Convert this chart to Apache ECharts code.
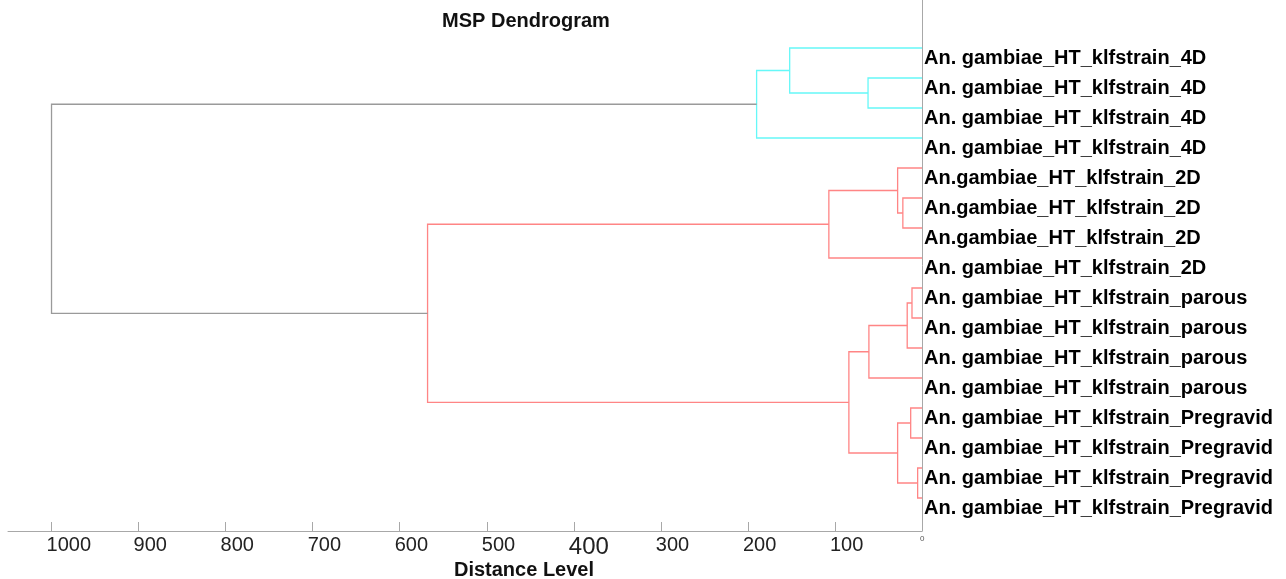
<!DOCTYPE html>
<html>
<head>
<meta charset="utf-8">
<title>MSP Dendrogram</title>
<script src="https://cdn.jsdelivr.net/npm/echarts@6/dist/echarts.min.js"></script>
<style>
  html, body { margin: 0; padding: 0; background: #fff; }
  #chart { width: 1286px; height: 579px; }
</style>
</head>
<body>
<div id="chart"></div>
<script>
// leaves, top to bottom
const leafLabels = [
    'An. gambiae_HT_klfstrain_4D',
    'An. gambiae_HT_klfstrain_4D',
    'An. gambiae_HT_klfstrain_4D',
    'An. gambiae_HT_klfstrain_4D',
    'An.gambiae_HT_klfstrain_2D',
    'An.gambiae_HT_klfstrain_2D',
    'An.gambiae_HT_klfstrain_2D',
    'An. gambiae_HT_klfstrain_2D',
    'An. gambiae_HT_klfstrain_parous',
    'An. gambiae_HT_klfstrain_parous',
    'An. gambiae_HT_klfstrain_parous',
    'An. gambiae_HT_klfstrain_parous',
    'An. gambiae_HT_klfstrain_Pregravid',
    'An. gambiae_HT_klfstrain_Pregravid',
    'An. gambiae_HT_klfstrain_Pregravid',
    'An. gambiae_HT_klfstrain_Pregravid'
];

// merges (linkage style): node 16 + i is created by merge i
const mergeLeft   = [1,  0,   17,  5,  4,  20,  8,    22, 23, 12, 14, 25, 24, 21,  18];
const mergeRight  = [2,  16,  3,   6,  19, 7,   9,    10, 11, 13, 15, 26, 27, 28,  29];
const mergeHeight = [62, 152, 190, 22, 28, 107, 11.5, 17, 61, 13, 5,  28, 84, 568, 1000];
const mergeGroup  = ['c','c','c','r','r','r','r','r','r','r','r','r','r','r','g'];

const groupColors = { c: '#66f8f8', r: '#ff8585', g: '#9a9a9a' };
const fontFam = '"Liberation Sans", Arial, sans-serif';

// dendrogram layout: y position + height of every node
const nodeY = leafLabels.map((_, i) => i);
const nodeH = leafLabels.map(() => 0);
const mergeData = [];
mergeHeight.forEach((h, i) => {
    const a = mergeLeft[i], b = mergeRight[i];
    mergeData.push({
        value: [nodeH[a], nodeY[a], h, nodeY[b], nodeH[b]],
        group: mergeGroup[i]
    });
    nodeY.push((nodeY[a] + nodeY[b]) / 2);
    nodeH.push(h);
});

const chart = echarts.init(document.getElementById('chart'));

const option = {
    animation: false,
    backgroundColor: '#fff',
    title: [
        {
            text: 'MSP Dendrogram', left: 526, top: 11, textAlign: 'center', padding: 0,
            textStyle: { fontFamily: fontFam, fontSize: 20, fontWeight: 'bold', color: '#111' }
        },
        {
            text: 'Distance Level', left: 524, top: 560, textAlign: 'center', padding: 0,
            textStyle: { fontFamily: fontFam, fontSize: 20, fontWeight: 'bold', color: '#111' }
        }
    ],
    grid: [
        { left: 8, right: 364, top: 0, bottom: 48, outerBoundsMode: 'none', containLabel: false },
        { left: 8, right: 364, top: 43, height: 480, outerBoundsMode: 'none', containLabel: false }
    ],
    xAxis: [
        {
            type: 'value', gridIndex: 0, inverse: true, min: 0, max: 1050, interval: 100,
            axisLine: { onZero: false, lineStyle: { color: '#a8a8a8', width: 1 } },
            axisTick: { inside: true, length: 9, lineStyle: { color: '#a8a8a8' } },
            splitLine: { show: false },
            axisLabel: {
                margin: 4, color: '#222', fontFamily: fontFam, fontSize: 20,
                align: 'left', padding: [0, 0, 0, -5],
                showMaxLabel: false,
                formatter: v => v === 0 ? '{z|0}' : (v === 400 ? '{b|400}' : String(v)),
                rich: {
                    z: { fontSize: 8, fontFamily: fontFam, color: '#555', padding: [0, 0, 0, 3] },
                    b: { fontSize: 24, fontFamily: fontFam, color: '#222' }
                }
            }
        },
        { type: 'value', gridIndex: 1, show: false }
    ],
    yAxis: [
        {
            type: 'value', gridIndex: 0, inverse: true, min: -1.6, max: 16.1, position: 'right',
            axisLine: { show: true, onZero: false, lineStyle: { color: '#a8a8a8', width: 1 } },
            axisTick: { show: false },
            axisLabel: { show: false },
            splitLine: { show: false }
        },
        {
            type: 'category', gridIndex: 1, inverse: true, position: 'right',
            data: leafLabels,
            axisLine: { show: false },
            axisTick: { show: false },
            splitLine: { show: false },
            axisLabel: {
                margin: 2, color: '#000', fontFamily: fontFam, fontSize: 20, fontWeight: 'bold'
            }
        }
    ],
    series: [
        {
            type: 'custom',
            xAxisIndex: 0, yAxisIndex: 0,
            encode: { x: [0, 2, 4], y: [1, 3] },
            data: mergeData,
            clip: false,
            renderItem: (params, api) => {
                const pts = [
                    [api.value(0), api.value(1)],
                    [api.value(2), api.value(1)],
                    [api.value(2), api.value(3)],
                    [api.value(4), api.value(3)]
                ].map(p => api.coord(p));
                const g = mergeData[params.dataIndex].group;
                return {
                    type: 'polyline',
                    shape: { points: pts },
                    style: { stroke: groupColors[g], fill: null, lineWidth: 1.3 }
                };
            }
        }
    ]
};

chart.setOption(option);
</script>
</body>
</html>
